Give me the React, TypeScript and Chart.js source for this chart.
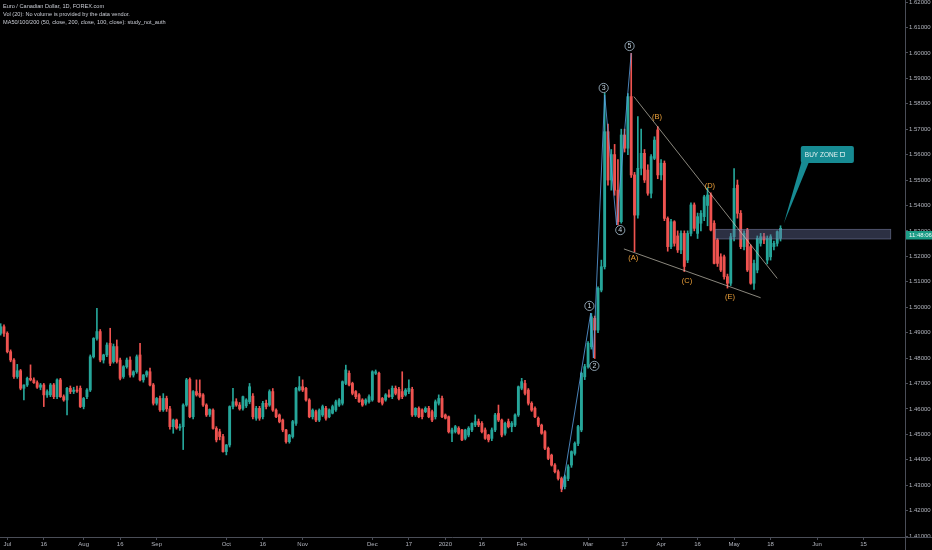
import React, { useEffect, useRef } from 'react';
import { Chart, registerables } from 'chart.js';
Chart.register(...registerables);

// ---- data (EUR/CAD daily, 27 Jun 2019 - 21 May 2020) ----
const opens = [
  1.4897,1.4923,1.4897,1.4825,1.4792,1.4727,1.4750,1.4681,1.4694,1.4720,
  1.4714,1.4703,1.4685,1.4694,1.4655,1.4655,1.4694,1.4648,1.4714,1.4648,
  1.4635,1.4681,1.4668,1.4674,1.4681,1.4609,1.4648,1.4674,1.4805,1.4877,
  1.4904,1.4792,1.4812,1.4858,1.4786,1.4845,1.4792,1.4727,1.4766,1.4792,
  1.4733,1.4746,1.4812,1.4714,1.4733,1.4746,1.4694,1.4622,1.4641,1.4596,
  1.4641,1.4600,1.4530,1.4556,1.4525,1.4530,1.4615,1.4716,1.4569,1.4668,
  1.4661,1.4655,1.4615,1.4578,1.4595,1.4523,1.4510,1.4491,1.4432,1.4458,
  1.4609,1.4628,1.4615,1.4602,1.4612,1.4628,1.4650,1.4563,1.4602,1.4569,
  1.4622,1.4615,1.4668,1.4595,1.4576,1.4556,1.4517,1.4471,1.4491,1.4543,
  1.4674,1.4687,1.4681,1.4635,1.4569,1.4589,1.4556,1.4576,1.4602,1.4569,
  1.4583,1.4596,1.4615,1.4622,1.4700,1.4740,1.4700,1.4668,1.4655,1.4635,
  1.4622,1.4628,1.4635,1.4740,1.4740,1.4641,1.4635,1.4655,1.4648,1.4681,
  1.4677,1.4668,1.4655,1.4668,1.4677,1.4576,1.4602,1.4596,1.4589,1.4602,
  1.4589,1.4569,1.4622,1.4641,1.4576,1.4569,1.4504,1.4510,1.4524,1.4517,
  1.4484,1.4497,1.4517,1.4537,1.4550,1.4543,1.4517,1.4497,1.4484,1.4517,
  1.4582,1.4556,1.4504,1.4550,1.4530,1.4536,1.4576,1.4681,1.4700,1.4674,
  1.4622,1.4602,1.4563,1.4536,1.4510,1.4445,1.4418,1.4379,1.4353,1.4326,
  1.4294,1.4326,1.4379,1.4425,1.4464,1.4517,1.4726,1.4766,1.4844,1.4956,
  1.4910,1.5067,1.5159,1.5690,1.5500,1.5600,1.5460,1.5336,1.5677,1.5625,
  1.5828,1.5520,1.5362,1.5546,1.5605,1.5539,1.5448,1.5585,1.5697,1.5520,
  1.5566,1.5349,1.5238,1.5336,1.5280,1.5225,1.5290,1.5185,1.5290,1.5402,
  1.5290,1.5330,1.5356,1.5400,1.5441,1.5330,1.5264,1.5198,1.5198,1.5120,
  1.5094,1.5277,1.5480,1.5369,1.5238,1.5303,1.5238,1.5094,1.5146,1.5251,
  1.5277,1.5185,1.5198,1.5238,1.5251,1.5271,
];
const highs = [
  1.4935,1.4930,1.4903,1.4832,1.4798,1.4775,1.4755,1.4695,1.4725,1.4773,
  1.4722,1.4710,1.4700,1.4700,1.4675,1.4700,1.4700,1.4718,1.4720,1.4655,
  1.4685,1.4690,1.4685,1.4690,1.4690,1.4645,1.4680,1.4812,1.4880,1.4995,
  1.4912,1.4815,1.4860,1.4917,1.4855,1.4871,1.4800,1.4770,1.4800,1.4805,
  1.4750,1.4812,1.4858,1.4735,1.4750,1.4760,1.4700,1.4645,1.4650,1.4660,
  1.4650,1.4610,1.4560,1.4560,1.4540,1.4620,1.4720,1.4722,1.4672,1.4714,
  1.4714,1.4660,1.4620,1.4600,1.4600,1.4530,1.4520,1.4500,1.4460,1.4612,
  1.4681,1.4640,1.4625,1.4650,1.4640,1.4700,1.4660,1.4610,1.4610,1.4630,
  1.4635,1.4675,1.4680,1.4600,1.4580,1.4560,1.4520,1.4500,1.4555,1.4685,
  1.4727,1.4714,1.4685,1.4640,1.4600,1.4595,1.4600,1.4615,1.4610,1.4600,
  1.4615,1.4635,1.4640,1.4710,1.4772,1.4750,1.4705,1.4672,1.4660,1.4640,
  1.4640,1.4655,1.4750,1.4753,1.4745,1.4645,1.4660,1.4675,1.4690,1.4690,
  1.4685,1.4746,1.4680,1.4714,1.4685,1.4605,1.4608,1.4600,1.4608,1.4610,
  1.4595,1.4635,1.4655,1.4650,1.4580,1.4572,1.4524,1.4535,1.4530,1.4520,
  1.4520,1.4530,1.4545,1.4576,1.4560,1.4550,1.4525,1.4500,1.4525,1.4582,
  1.4615,1.4560,1.4548,1.4560,1.4550,1.4580,1.4690,1.4720,1.4712,1.4680,
  1.4628,1.4608,1.4568,1.4540,1.4515,1.4450,1.4422,1.4385,1.4360,1.4332,
  1.4340,1.4380,1.4435,1.4470,1.4535,1.4745,1.4775,1.4865,1.4975,1.4965,
  1.5080,1.5185,1.5841,1.5720,1.5620,1.5640,1.5580,1.5700,1.5700,1.5840,
  1.5998,1.5530,1.5749,1.5700,1.5620,1.5560,1.5600,1.5670,1.5710,1.5580,
  1.5575,1.5355,1.5345,1.5340,1.5300,1.5300,1.5300,1.5300,1.5410,1.5410,
  1.5370,1.5380,1.5440,1.5470,1.5450,1.5340,1.5270,1.5210,1.5205,1.5130,
  1.5290,1.5545,1.5500,1.5380,1.5300,1.5310,1.5245,1.5185,1.5280,1.5290,
  1.5290,1.5280,1.5285,1.5260,1.5300,1.5320,
];
const lows = [
  1.4890,1.4885,1.4820,1.4785,1.4720,1.4720,1.4675,1.4635,1.4688,1.4710,
  1.4700,1.4680,1.4675,1.4609,1.4645,1.4648,1.4640,1.4640,1.4645,1.4630,
  1.4576,1.4660,1.4660,1.4665,1.4605,1.4600,1.4640,1.4668,1.4800,1.4870,
  1.4785,1.4780,1.4805,1.4770,1.4780,1.4780,1.4714,1.4720,1.4760,1.4725,
  1.4725,1.4740,1.4710,1.4705,1.4725,1.4690,1.4615,1.4615,1.4590,1.4590,
  1.4590,1.4520,1.4504,1.4520,1.4515,1.4440,1.4610,1.4565,1.4560,1.4650,
  1.4645,1.4610,1.4570,1.4570,1.4520,1.4470,1.4478,1.4430,1.4419,1.4450,
  1.4600,1.4610,1.4595,1.4595,1.4605,1.4620,1.4560,1.4555,1.4555,1.4560,
  1.4600,1.4610,1.4590,1.4565,1.4545,1.4510,1.4465,1.4465,1.4485,1.4535,
  1.4670,1.4668,1.4630,1.4565,1.4560,1.4550,1.4550,1.4570,1.4556,1.4565,
  1.4580,1.4590,1.4610,1.4615,1.4695,1.4690,1.4655,1.4640,1.4625,1.4610,
  1.4615,1.4622,1.4630,1.4735,1.4625,1.4615,1.4630,1.4645,1.4640,1.4655,
  1.4635,1.4640,1.4650,1.4660,1.4570,1.4570,1.4565,1.4560,1.4585,1.4565,
  1.4550,1.4560,1.4615,1.4565,1.4560,1.4505,1.4471,1.4505,1.4500,1.4475,
  1.4478,1.4490,1.4510,1.4530,1.4530,1.4505,1.4480,1.4470,1.4475,1.4510,
  1.4550,1.4490,1.4497,1.4525,1.4510,1.4530,1.4570,1.4675,1.4655,1.4615,
  1.4590,1.4565,1.4530,1.4500,1.4440,1.4400,1.4375,1.4348,1.4320,1.4274,
  1.4285,1.4318,1.4370,1.4418,1.4455,1.4510,1.4715,1.4760,1.4835,1.4798,
  1.4900,1.5060,1.5150,1.5480,1.5460,1.5440,1.5323,1.5330,1.5610,1.5600,
  1.5510,1.5218,1.5350,1.5520,1.5490,1.5440,1.5430,1.5580,1.5505,1.5500,
  1.5340,1.5220,1.5230,1.5240,1.5215,1.5210,1.5140,1.5175,1.5280,1.5300,
  1.5270,1.5300,1.5340,1.5320,1.5300,1.5170,1.5160,1.5140,1.5110,1.5075,
  1.5085,1.5260,1.5350,1.5230,1.5225,1.5140,1.5090,1.5070,1.5135,1.5240,
  1.5250,1.5170,1.5185,1.5225,1.5240,1.5260,
];
const closes = [
  1.4923,1.4897,1.4825,1.4792,1.4727,1.4750,1.4681,1.4694,1.4720,1.4714,
  1.4703,1.4685,1.4694,1.4655,1.4668,1.4694,1.4648,1.4714,1.4648,1.4635,
  1.4681,1.4668,1.4674,1.4670,1.4609,1.4641,1.4674,1.4805,1.4877,1.4904,
  1.4792,1.4812,1.4851,1.4779,1.4845,1.4786,1.4720,1.4766,1.4792,1.4733,
  1.4746,1.4805,1.4714,1.4733,1.4746,1.4694,1.4622,1.4641,1.4596,1.4641,
  1.4600,1.4530,1.4556,1.4525,1.4530,1.4615,1.4714,1.4569,1.4668,1.4655,
  1.4650,1.4615,1.4576,1.4598,1.4523,1.4478,1.4491,1.4432,1.4458,1.4609,
  1.4628,1.4615,1.4600,1.4648,1.4635,1.4687,1.4569,1.4602,1.4563,1.4622,
  1.4609,1.4668,1.4595,1.4569,1.4550,1.4517,1.4471,1.4497,1.4550,1.4681,
  1.4687,1.4674,1.4635,1.4569,1.4595,1.4556,1.4595,1.4609,1.4563,1.4596,
  1.4609,1.4628,1.4635,1.4707,1.4753,1.4694,1.4661,1.4648,1.4628,1.4615,
  1.4635,1.4648,1.4746,1.4746,1.4628,1.4622,1.4655,1.4648,1.4681,1.4661,
  1.4641,1.4648,1.4674,1.4681,1.4576,1.4602,1.4569,1.4569,1.4602,1.4569,
  1.4556,1.4628,1.4641,1.4569,1.4563,1.4510,1.4517,1.4530,1.4504,1.4478,
  1.4517,1.4524,1.4543,1.4550,1.4537,1.4510,1.4484,1.4478,1.4517,1.4576,
  1.4556,1.4497,1.4543,1.4530,1.4543,1.4576,1.4687,1.4707,1.4661,1.4622,
  1.4595,1.4569,1.4536,1.4504,1.4445,1.4405,1.4379,1.4353,1.4326,1.4287,
  1.4333,1.4372,1.4432,1.4464,1.4530,1.4740,1.4766,1.4858,1.4962,1.4910,
  1.5074,1.5159,1.5690,1.5500,1.5600,1.5460,1.5336,1.5677,1.5625,1.5828,
  1.5520,1.5362,1.5546,1.5605,1.5500,1.5448,1.5592,1.5657,1.5520,1.5566,
  1.5349,1.5238,1.5336,1.5251,1.5225,1.5290,1.5160,1.5290,1.5402,1.5310,
  1.5356,1.5369,1.5434,1.5441,1.5303,1.5172,1.5172,1.5146,1.5120,1.5094,
  1.5277,1.5467,1.5369,1.5238,1.5290,1.5146,1.5094,1.5172,1.5271,1.5277,
  1.5264,1.5271,1.5277,1.5251,1.5297,1.5310,
];

const yTicks = [1.41,1.42,1.43,1.44,1.45,1.46,1.47,1.48,1.49,1.50,1.51,1.52,1.53,1.54,1.55,1.56,1.57,1.58,1.59,1.60,1.61,1.62];
const xTickDates = ['2019-07-01','2019-07-16','2019-08-01','2019-08-16','2019-09-02','2019-10-01','2019-10-16','2019-11-01','2019-12-02','2019-12-17','2020-01-01','2020-01-16','2020-02-03','2020-03-02','2020-03-17','2020-04-01','2020-04-16','2020-05-01','2020-05-18','2020-06-01','2020-06-15'];
const xTickText = ['Jul','16','Aug','16','Sep','Oct','16','Nov','Dec','17','2020','16','Feb','Mar','17','Apr','16','May','18','Jun','15'];

// ---- drawings (bar index, price) ----
const waveIdx = [169.2, 177.8, 178.6, 182.0, 185.6, 190.0];
const wavePrice = [1.4281, 1.4977, 1.4800, 1.5834, 1.5323, 1.5999];
const waveLabels = ['1', '2', '3', '4', '5'];
const waveLabelIdx = [177.4, 178.9, 181.7, 186.7, 189.5];
const waveLabelPrice = [1.5005, 1.4769, 1.5862, 1.5303, 1.6027];
const abcLabels = ['(A)', '(B)', '(C)', '(D)', '(E)'];
const abcIdx = [190.6, 197.8, 206.8, 213.7, 219.8];
const abcPrice = [1.5193, 1.5748, 1.5103, 1.5476, 1.5040];
const upperLineIdx = [190.8, 234.0];
const upperLinePrice = [1.5828, 1.5113];
const lowerLineIdx = [187.8, 229.0];
const lowerLinePrice = [1.5229, 1.5037];
const zoneIdx = [215.4, 268.2];
const zonePrice = [1.5306, 1.5268];
const calloutIdx = [241.1, 257.1];
const calloutPrice = [1.5634, 1.5567];
const calloutTip = [236.0, 1.5330];

const UP = '#26a69a';
const DOWN = '#ef5350';
const FONT = "'Liberation Sans', Arial, sans-serif";

function buildDates(): string[] {
  const out: string[] = [];
  const d = new Date(Date.UTC(2019, 5, 27));
  const lastBar = Date.UTC(2020, 4, 21);
  const end = Date.UTC(2020, 5, 27);
  while (d.getTime() <= end) {
    const wd = d.getUTCDay();
    if (d.getTime() > lastBar || (wd !== 0 && wd !== 6)) out.push(d.toISOString().slice(0, 10));
    d.setUTCDate(d.getUTCDate() + 1);
  }
  return out;
}

export default function App() {
  const ref = useRef<HTMLCanvasElement>(null);
  useEffect(() => {
    const dates = buildDates();
    const n = opens.length;
    const colors = dates.map((_, i) => (i < n && closes[i] >= opens[i] ? UP : DOWN));
    const tickIdx = xTickDates.map((d) => dates.indexOf(d));
    const tickTextByIdx: Record<number, string> = {};
    tickIdx.forEach((ix, k) => (tickTextByIdx[ix] = xTickText[k]));

    const overlay = {
      id: 'overlay',
      afterDraw(chart: any) {
        const ctx = chart.ctx as CanvasRenderingContext2D;
        const xs = chart.scales.x;
        const ys = chart.scales.y;
        const px = (i: number) => xs.getPixelForValue(i);
        const py = (p: number) => ys.getPixelForValue(p);
        const area = chart.chartArea;
        ctx.save();
        // axis extension lines
        ctx.strokeStyle = '#4a4d57';
        ctx.lineWidth = 1;
        ctx.beginPath();
        ctx.moveTo(area.right, area.bottom + 0.5);
        ctx.lineTo(chart.width, area.bottom + 0.5);
        ctx.moveTo(area.right + 0.5, area.bottom);
        ctx.lineTo(area.right + 0.5, chart.height);
        ctx.stroke();

        // buy zone rectangle
        const zx1 = px(zoneIdx[0]), zx2 = px(zoneIdx[1]);
        const zy1 = py(zonePrice[0]), zy2 = py(zonePrice[1]);
        ctx.fillStyle = 'rgba(105,115,160,0.42)';
        ctx.fillRect(zx1, zy1, zx2 - zx1, zy2 - zy1);
        ctx.strokeStyle = 'rgba(140,150,190,0.55)';
        ctx.lineWidth = 0.8;
        ctx.strokeRect(zx1, zy1, zx2 - zx1, zy2 - zy1);

        // trend lines
        ctx.strokeStyle = 'rgba(205,200,185,0.85)';
        ctx.lineWidth = 0.8;
        ctx.beginPath();
        ctx.moveTo(px(upperLineIdx[0]), py(upperLinePrice[0]));
        ctx.lineTo(px(upperLineIdx[1]), py(upperLinePrice[1]));
        ctx.moveTo(px(lowerLineIdx[0]), py(lowerLinePrice[0]));
        ctx.lineTo(px(lowerLineIdx[1]), py(lowerLinePrice[1]));
        ctx.stroke();

        // elliott wave path
        ctx.strokeStyle = 'rgba(90,160,225,0.9)';
        ctx.lineWidth = 0.9;
        ctx.beginPath();
        waveIdx.forEach((ix, k) => {
          const x = px(ix), y = py(wavePrice[k]);
          if (k === 0) ctx.moveTo(x, y); else ctx.lineTo(x, y);
        });
        ctx.stroke();

        // circled wave labels
        ctx.font = `7px ${FONT}`;
        ctx.textAlign = 'center';
        ctx.textBaseline = 'middle';
        waveLabels.forEach((t, k) => {
          const x = px(waveLabelIdx[k]), y = py(waveLabelPrice[k]);
          ctx.fillStyle = '#000';
          ctx.beginPath();
          ctx.arc(x, y, 4.6, 0, Math.PI * 2);
          ctx.fill();
          ctx.strokeStyle = '#a9c2d3';
          ctx.lineWidth = 0.8;
          ctx.stroke();
          ctx.fillStyle = '#c5d6e2';
          ctx.fillText(t, x, y + 0.3);
        });

        // (A)-(E)
        ctx.font = `7.5px ${FONT}`;
        ctx.fillStyle = '#f0a33a';
        abcLabels.forEach((t, k) => {
          ctx.fillText(t, px(abcIdx[k]), py(abcPrice[k]));
        });

        // callout
        const bx1 = px(calloutIdx[0]), bx2 = px(calloutIdx[1]);
        const by1 = py(calloutPrice[0]), by2 = py(calloutPrice[1]);
        const tx = px(calloutTip[0]), ty = py(calloutTip[1]);
        ctx.fillStyle = '#178b93';
        ctx.beginPath();
        ctx.moveTo(bx1 + 1, by2 - 2);
        ctx.lineTo(bx1 + 8, by2 - 0.5);
        ctx.lineTo(tx, ty);
        ctx.closePath();
        ctx.fill();
        ctx.beginPath();
        (ctx as any).roundRect(bx1, by1, bx2 - bx1, by2 - by1, 2);
        ctx.fill();
        ctx.fillStyle = '#e6f3f3';
        ctx.font = `6.5px ${FONT}`;
        ctx.textAlign = 'left';
        ctx.fillText('BUY ZONE', bx1 + 4, (by1 + by2) / 2 + 0.3);
        const w = ctx.measureText('BUY ZONE ').width;
        ctx.strokeStyle = '#e6f3f3';
        ctx.lineWidth = 0.7;
        ctx.strokeRect(bx1 + 4 + w + 0.5, (by1 + by2) / 2 - 2, 4, 4);

        // countdown label on the price axis
        ctx.fillStyle = '#1c9c86';
        ctx.fillRect(area.right + 1, 231, chart.width - area.right - 1, 8.5);
        ctx.fillStyle = '#eaf6f3';
        ctx.font = `6px ${FONT}`;
        ctx.textAlign = 'left';
        ctx.fillText('11:48:06', area.right + 4, 235.5);

        // header text
        ctx.fillStyle = '#c9ccd4';
        ctx.font = `5.6px ${FONT}`;
        ctx.textBaseline = 'middle';
        ctx.fillText('Euro / Canadian Dollar, 1D, FOREX.com', 4, 6.5);
        ctx.fillText('Vol (20): No volume is provided by the data vendor.', 4, 14.5);
        ctx.fillText('MA50/100/200 (50, close, 200, close, 100, close): study_not_auth', 4, 22.5);
        ctx.restore();
      },
    };

    const chart = new Chart(ref.current!, {
      type: 'bar',
      data: {
        labels: dates,
        datasets: [
          {
            data: dates.map((_, i) => (i < n ? [lows[i], highs[i]] : null)) as any,
            backgroundColor: colors,
            barThickness: 1,
            grouped: false,
            borderWidth: 0,
            order: 2,
          } as any,
          {
            data: dates.map((_, i) => (i < n ? [opens[i], closes[i]] : null)) as any,
            backgroundColor: colors,
            barThickness: 2.2,
            grouped: false,
            borderWidth: 0,
            order: 1,
          } as any,
        ],
      },
      options: {
        animation: false,
        responsive: false,
        maintainAspectRatio: false,
        layout: { padding: 0 },
        plugins: { legend: { display: false }, tooltip: { enabled: false } },
        scales: {
          x: {
            type: 'category',
            offset: true,
            grid: { display: true, drawOnChartArea: false, drawTicks: true, tickLength: 3, color: '#4a4d57', offset: false },
            border: { display: true, color: '#4a4d57' },
            ticks: {
              autoSkip: false,
              maxRotation: 0,
              minRotation: 0,
              padding: 1,
              color: '#b2b5be',
              font: { size: 6, family: FONT },
              callback: (v: any) => tickTextByIdx[v as number] ?? '',
            },
            afterBuildTicks: (s: any) => {
              s.ticks = tickIdx.map((v) => ({ value: v }));
            },
            afterFit: (s: any) => {
              s.height = 13;
              s.paddingLeft = 0;
              s.paddingRight = 0;
            },
          },
          y: {
            type: 'linear',
            position: 'right',
            min: 1.40961,
            max: 1.62079,
            grid: { display: true, drawOnChartArea: false, drawTicks: true, tickLength: 3, color: '#4a4d57' },
            border: { display: true, color: '#4a4d57' },
            ticks: {
              padding: 1,
              color: '#b2b5be',
              font: { size: 6, family: FONT },
              callback: (v: any) => Number(v).toFixed(5),
            },
            afterBuildTicks: (s: any) => {
              s.ticks = yTicks.map((v) => ({ value: v }));
            },
            afterFit: (s: any) => {
              s.width = 27;
              s.paddingTop = 0;
              s.paddingBottom = 0;
            },
          },
        },
      },
      plugins: [overlay],
    });
    return () => chart.destroy();
  }, []);

  return (
    <div style={{ position: 'fixed', left: -1, top: 0, width: 933, height: 550, background: '#000' }}>
      <canvas ref={ref} width={933} height={550} style={{ width: 933, height: 550, display: 'block' }} />
    </div>
  );
}
